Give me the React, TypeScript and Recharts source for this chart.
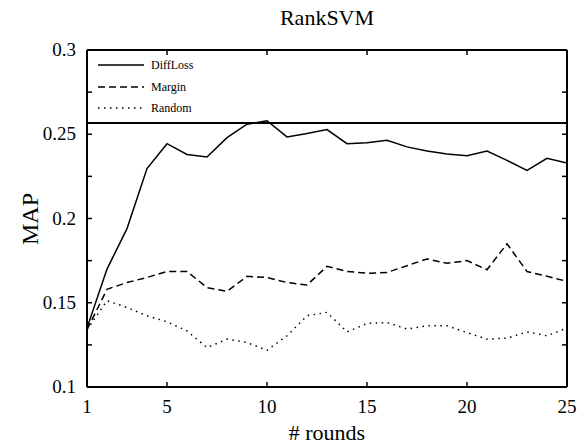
import React from "react";
import { LineChart, Line, XAxis, YAxis } from "recharts";

// MAP per active-learning round for the RankSVM learner
const rounds = [1, 2, 3, 4, 5, 6, 7, 8, 9, 10, 11, 12, 13, 14, 15, 16, 17, 18, 19, 20, 21, 22, 23, 24, 25];
const diffLoss = [0.135, 0.17, 0.194, 0.2296, 0.2444, 0.238, 0.2365, 0.248, 0.256, 0.258, 0.2484, 0.2504, 0.2528, 0.2444, 0.245, 0.2464, 0.2425, 0.24, 0.2383, 0.2373, 0.24, 0.2345, 0.2286, 0.2357, 0.2329];
const margin = [0.134, 0.158, 0.162, 0.165, 0.1686, 0.1686, 0.159, 0.1567, 0.1657, 0.165, 0.162, 0.1605, 0.1716, 0.1686, 0.1675, 0.168, 0.172, 0.176, 0.1734, 0.175, 0.1696, 0.185, 0.1685, 0.1657, 0.1627];
const random = [0.134, 0.1512, 0.1472, 0.1423, 0.1387, 0.1333, 0.1234, 0.1284, 0.1264, 0.1218, 0.1304, 0.1423, 0.1443, 0.1327, 0.1377, 0.1383, 0.1344, 0.1363, 0.1363, 0.1323, 0.1284, 0.129, 0.1327, 0.1304, 0.135];

const xTicks = [1, 5, 10, 15, 20, 25];
const yTicks = [0.1, 0.125, 0.15, 0.175, 0.2, 0.225, 0.25, 0.275, 0.3];
const yTickLabels: Record<string, string> = { "0.1": "0.1", "0.15": "0.15", "0.2": "0.2", "0.25": "0.25", "0.3": "0.3" };

const seriesNames = ["DiffLoss", "Margin", "Random"];
const dashes = ["", "7 4", "1.5 4.5"];
// the mirrored top/right axes share the same domain, so one series is bound to them
const seriesXAxis = ["bottom", "top", "bottom"];
const seriesYAxis = ["left", "right", "left"];

const data = rounds.map((r, i) => ({ round: r, DiffLoss: diffLoss[i], Margin: margin[i], Random: random[i] }));

const FONT = "Liberation Serif, Times New Roman, serif";
const W = 579;
const H = 446;
const M = { top: 49, right: 11, bottom: 0, left: 0 };
const Y_AXIS_W = 87;
const X_AXIS_H = 59;
const TICK = -5; // negative length: tick marks point into the plot

const tickLine = { stroke: "#000", strokeWidth: 1.5 };
const axisLine = { stroke: "#000", strokeWidth: 2 };

const BottomTick = (p: any) => (
  <text x={p.x} y={p.y + 31} textAnchor="middle" fontFamily={FONT} fontSize={19} fill="#000">
    {p.payload.value}
  </text>
);

const LeftTick = (p: any) => {
  const label = yTickLabels[String(p.payload.value)];
  return label ? (
    <text x={p.x - 16} y={p.y + 6} textAnchor="end" fontFamily={FONT} fontSize={19} fill="#000">
      {label}
    </text>
  ) : (
    <g />
  );
};

const NoLabel = () => <g />;

export default function App() {
  const plotLeft = M.left + Y_AXIS_W;
  const plotRight = W - M.right - 1;
  const plotW = plotRight - plotLeft;
  const plotTop = M.top + 1;
  const plotBottom = H - X_AXIS_H;
  const cx = plotLeft + plotW / 2;

  return (
    <div style={{ position: "absolute", left: 0, top: 0, width: W, height: H, background: "#fff" }}>
      <LineChart width={W} height={H} data={data} margin={M}>
        <XAxis
          xAxisId="bottom"
          dataKey="round"
          type="number"
          domain={[1, 25]}
          allowDataOverflow
          ticks={xTicks}
          height={X_AXIS_H}
          tickSize={TICK}
          tickMargin={0}
          axisLine={axisLine}
          tickLine={tickLine}
          tick={BottomTick}
          interval={0}
        />
        <XAxis
          xAxisId="top"
          orientation="top"
          dataKey="round"
          type="number"
          domain={[1, 25]}
          allowDataOverflow
          ticks={xTicks}
          height={1}
          tickSize={TICK}
          tickMargin={0}
          axisLine={axisLine}
          tickLine={tickLine}
          tick={NoLabel}
          interval={0}
        />
        <YAxis
          yAxisId="left"
          type="number"
          domain={[0.1, 0.3]}
          allowDataOverflow
          ticks={yTicks}
          width={Y_AXIS_W}
          tickSize={TICK}
          tickMargin={0}
          axisLine={axisLine}
          tickLine={tickLine}
          tick={LeftTick}
          interval={0}
        />
        <YAxis
          yAxisId="right"
          orientation="right"
          type="number"
          domain={[0.1, 0.3]}
          allowDataOverflow
          ticks={yTicks}
          width={1}
          tickSize={TICK}
          tickMargin={0}
          axisLine={axisLine}
          tickLine={tickLine}
          tick={NoLabel}
          interval={0}
        />
        {seriesNames.map((name, i) => (
          <Line
            key={name}
            xAxisId={seriesXAxis[i]}
            yAxisId={seriesYAxis[i]}
            type="linear"
            dataKey={name}
            stroke="#000"
            strokeWidth={1.5}
            strokeDasharray={dashes[i] || undefined}
            dot={false}
            activeDot={false}
            isAnimationActive={false}
          />
        ))}
      </LineChart>

      {/* title */}
      <div
        style={{
          position: "absolute",
          left: cx - 100,
          width: 200,
          top: 5,
          textAlign: "center",
          fontFamily: FONT,
          fontSize: 22,
          lineHeight: "26px",
          color: "#000",
        }}
      >
        RankSVM
      </div>

      {/* y-axis title */}
      <div
        style={{
          position: "absolute",
          left: 30 - 50,
          top: (plotTop + plotBottom) / 2 - 14,
          width: 100,
          height: 28,
          lineHeight: "28px",
          textAlign: "center",
          transform: "rotate(-90deg)",
          fontFamily: FONT,
          fontSize: 24,
          color: "#000",
        }}
      >
        MAP
      </div>

      {/* x-axis title */}
      <div
        style={{
          position: "absolute",
          left: cx - 100,
          width: 200,
          top: 421,
          height: 24,
          textAlign: "center",
          fontFamily: FONT,
          fontSize: 22,
          lineHeight: "24px",
          color: "#000",
        }}
      >
        # rounds
      </div>

      {/* key box across the top of the plot */}
      <div
        style={{
          position: "absolute",
          left: plotLeft,
          top: plotTop,
          width: plotW,
          height: 72,
          borderBottom: "2px solid #000",
        }}
      >
        {seriesNames.map((name, i) => (
          <div key={name} style={{ position: "absolute", left: 0, top: 6 + i * 21.7, height: 18, width: 200 }}>
            <svg width={60} height={18} style={{ position: "absolute", left: 0, top: 0 }}>
              <line
                x1={11}
                x2={57}
                y1={9}
                y2={9}
                stroke="#000"
                strokeWidth={1.5}
                strokeDasharray={dashes[i] || undefined}
              />
            </svg>
            <span
              style={{
                position: "absolute",
                left: 64,
                top: 0,
                lineHeight: "18px",
                fontFamily: FONT,
                fontSize: 12,
                color: "#000",
              }}
            >
              {name}
            </span>
          </div>
        ))}
      </div>
    </div>
  );
}
